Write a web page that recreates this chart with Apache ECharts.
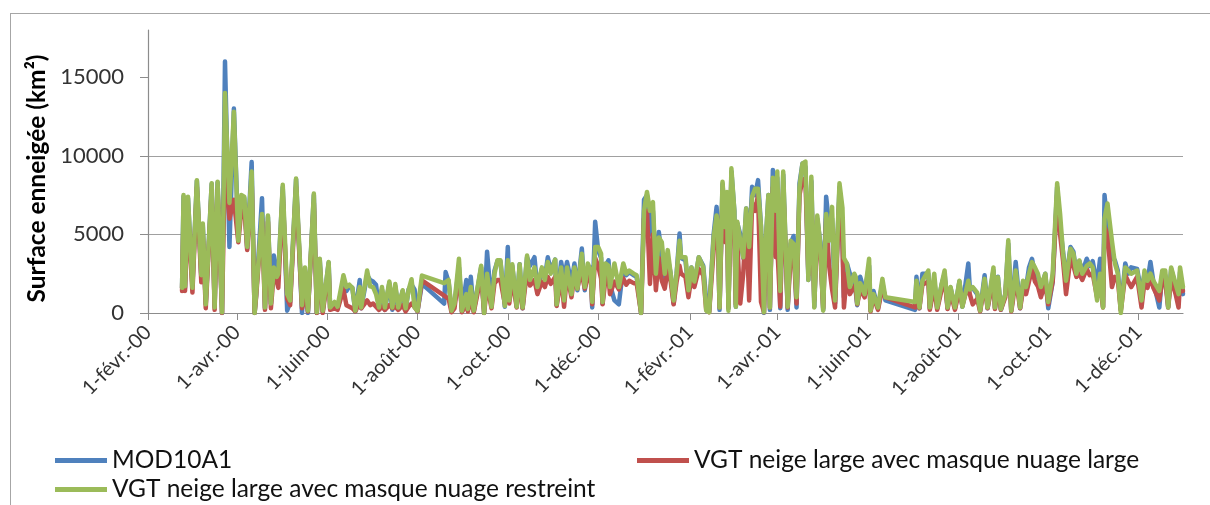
<!DOCTYPE html>
<html>
<head>
<meta charset="utf-8">
<title>Surface enneigée</title>
<script src="https://cdn.jsdelivr.net/npm/echarts@6/dist/echarts.min.js"></script>
<style>
  html, body { margin: 0; padding: 0; background: #fff; }
  #wrap { position: relative; width: 1210px; height: 505px; overflow: hidden; }
  #frame { position: absolute; left: 10px; top: 13px; width: 1300px; height: 600px; border: 1px solid #a6a6a6; }
  #chart { position: absolute; left: 0; top: 0; width: 1210px; height: 505px; }
</style>
</head>
<body>
<div id="wrap">
  <div id="frame"></div>
  <div id="chart"></div>
</div>
<script>
const dates = [
  '2000-02-24','2000-02-25','2000-02-26','2000-02-28','2000-03-02','2000-03-05','2000-03-08','2000-03-09','2000-03-11','2000-03-15',
  '2000-03-17','2000-03-19','2000-03-22','2000-03-24','2000-03-27','2000-03-30','2000-04-02','2000-04-04','2000-04-06','2000-04-08',
  '2000-04-11','2000-04-13','2000-04-14','2000-04-18','2000-04-20','2000-04-22','2000-04-24','2000-04-26','2000-04-28','2000-04-29',
  '2000-05-02','2000-05-05','2000-05-07','2000-05-11','2000-05-15','2000-05-17','2000-05-19','2000-05-23','2000-05-25','2000-05-27',
  '2000-05-29','2000-06-02','2000-06-03','2000-06-06','2000-06-08','2000-06-12','2000-06-14','2000-06-16','2000-06-18','2000-06-20',
  '2000-06-23','2000-06-24','2000-06-28','2000-06-30','2000-07-02','2000-07-04','2000-07-06','2000-07-08','2000-07-10','2000-07-13',
  '2000-07-15','2000-07-17','2000-07-19','2000-07-22','2000-07-24','2000-07-26','2000-07-28','2000-07-30','2000-08-01','2000-08-04',
  '2000-08-19','2000-08-20','2000-08-22','2000-08-24','2000-08-26','2000-08-29','2000-08-31','2000-09-03','2000-09-04','2000-09-06',
  '2000-09-08','2000-09-13','2000-09-15','2000-09-17','2000-09-20','2000-09-22','2000-09-24','2000-09-26','2000-09-29','2000-10-01',
  '2000-10-02','2000-10-04','2000-10-07','2000-10-09','2000-10-11','2000-10-14','2000-10-16','2000-10-19','2000-10-21','2000-10-24',
  '2000-10-26','2000-10-28','2000-10-30','2000-11-02','2000-11-03','2000-11-06','2000-11-08','2000-11-10','2000-11-13','2000-11-15',
  '2000-11-17','2000-11-20','2000-11-21','2000-11-22','2000-11-24','2000-11-26','2000-11-27','2000-11-29','2000-12-01','2000-12-03',
  '2000-12-04','2000-12-06','2000-12-08','2000-12-09','2000-12-12','2000-12-15','2000-12-18','2000-12-20','2000-12-22','2000-12-25',
  '2000-12-27','2000-12-30','2001-01-01','2001-01-03','2001-01-05','2001-01-07','2001-01-09','2001-01-11','2001-01-13','2001-01-15',
  '2001-01-17','2001-01-19','2001-01-21','2001-01-23','2001-01-25','2001-01-26','2001-01-29','2001-01-31','2001-02-02','2001-02-04',
  '2001-02-07','2001-02-10','2001-02-12','2001-02-14','2001-02-17','2001-02-19','2001-02-20','2001-02-21','2001-02-23','2001-02-25',
  '2001-02-26','2001-02-27','2001-03-01','2001-03-03','2001-03-04','2001-03-05','2001-03-07','2001-03-09','2001-03-11','2001-03-13',
  '2001-03-15','2001-03-17','2001-03-19','2001-03-21','2001-03-23','2001-03-24','2001-03-26','2001-03-27','2001-03-29','2001-03-31',
  '2001-04-01','2001-04-03','2001-04-05','2001-04-08','2001-04-10','2001-04-12','2001-04-14','2001-04-16','2001-04-18','2001-04-20',
  '2001-04-22','2001-04-24','2001-04-26','2001-04-28','2001-04-30','2001-05-02','2001-05-04','2001-05-06','2001-05-08','2001-05-10',
  '2001-05-13','2001-05-15','2001-05-16','2001-05-18','2001-05-20','2001-05-23','2001-05-24','2001-05-25','2001-05-27','2001-05-30',
  '2001-06-02','2001-06-03','2001-06-05','2001-06-08','2001-06-11','2001-06-13','2001-07-03','2001-07-04','2001-07-06','2001-07-08',
  '2001-07-12','2001-07-13','2001-07-16','2001-07-18','2001-07-21','2001-07-23','2001-07-25','2001-07-27','2001-07-30','2001-08-02',
  '2001-08-04','2001-08-08','2001-08-09','2001-08-11','2001-08-14','2001-08-16','2001-08-19','2001-08-21','2001-08-25','2001-08-26',
  '2001-08-28','2001-08-30','2001-09-02','2001-09-04','2001-09-06','2001-09-07','2001-09-09','2001-09-12','2001-09-14','2001-09-16',
  '2001-09-18','2001-09-20','2001-09-22','2001-09-24','2001-09-26','2001-09-29','2001-10-01','2001-10-04','2001-10-07','2001-10-09',
  '2001-10-11','2001-10-13','2001-10-16','2001-10-18','2001-10-20','2001-10-22','2001-10-24','2001-10-27','2001-10-29','2001-10-31',
  '2001-11-03','2001-11-05','2001-11-07','2001-11-08','2001-11-10','2001-11-13','2001-11-15','2001-11-17','2001-11-19','2001-11-22',
  '2001-11-24','2001-11-26','2001-11-30','2001-12-03','2001-12-05','2001-12-07','2001-12-09','2001-12-11','2001-12-15','2001-12-17',
  '2001-12-19','2001-12-21','2001-12-23','2001-12-26','2001-12-28','2001-12-29','2001-12-31'
]

// surface enneigée (km²)
const mod10a1 = [
  1600,7400,1600,7300,1700,8400,2300,5600,600,8200,
  400,8300,0,16000,4200,13000,4800,7400,7300,4100,
  9600,0,1100,7300,300,6100,600,3650,2300,2500,
  8000,150,700,8500,0,2700,0,7500,0,3400,
  100,3200,300,500,300,2000,1400,1700,1600,100,
  2100,300,2400,2100,2000,1800,300,1500,200,1900,
  200,1700,300,1400,200,1500,1800,1500,100,1850,
  600,2600,2000,100,600,2900,100,2100,200,2300,
  100,2900,0,3900,500,2700,3300,3300,400,4200,
  1000,3000,400,3100,300,3550,3000,3550,1500,2800,
  2200,3550,2700,3400,500,3250,2200,3250,1900,3150,
  1450,4100,2600,1450,2900,2900,350,5800,4000,3500,
  600,3000,3350,1800,800,550,2900,2400,2600,2400,
  2300,0,7200,7500,5000,6500,2500,5150,3500,2000,
  3500,2500,600,2500,5050,3500,3350,1400,2900,1800,
  3550,3000,800,100,5000,6750,5300,200,8200,5500,
  7600,300,9000,6500,400,5700,5000,3500,6650,4200,
  8030,7500,8450,5500,0,4200,7500,200,9100,6000,
  8600,300,8800,200,4400,4900,350,8250,9500,9300,
  2100,8400,400,6000,4500,200,7400,5600,6000,600,
  8000,5000,1000,3150,2500,2200,2100,500,2300,1300,
  3000,150,1400,300,1900,800,200,2300,300,2500,
  2500,300,2100,300,1800,2500,300,1600,300,2000,
  400,3150,1650,1600,1200,150,2400,300,2700,300,
  2300,200,1200,4400,150,1000,3250,300,2000,1600,
  2900,3450,2500,2300,1500,2500,300,2000,8000,5500,
  3900,2100,4200,3900,2500,3300,2600,3450,3000,3300,
  1800,3450,400,7500,5500,3500,3350,2700,200,3150,
  2500,2900,2800,1300,2500,2000,3250,2000,350,2500,
  2400,400,2800,1700,800,2600,1200
]

const vgtLarge = [
  1400,6200,1400,6500,1300,8000,1950,5000,300,7800,
  200,7900,0,10000,6000,7200,4500,6500,6800,4000,
  8500,0,1000,6000,200,5800,300,2600,2000,1600,
  7500,900,500,8000,300,1200,100,7000,0,3000,
  0,2800,200,300,200,1500,500,400,300,100,
  700,300,800,500,600,400,200,400,200,500,
  300,400,200,500,100,400,600,400,100,2070,
  1100,1200,900,50,300,2600,50,600,100,900,
  50,2400,0,1800,300,1900,2100,2100,600,2500,
  600,2200,350,2300,300,2700,1750,2100,1200,2000,
  1650,2300,1850,2300,450,2300,400,2500,1000,2400,
  1550,3000,2000,1550,2300,2200,550,3500,3000,2200,
  550,2200,2300,1200,2000,1500,2200,1800,2050,1900,
  1900,0,6000,6500,1850,5000,1450,3500,2050,1550,
  2800,2000,550,2000,3000,2500,2300,1000,2300,1650,
  2800,2400,200,50,4000,5500,4500,350,7500,4500,
  7000,350,8500,5000,550,4500,600,2500,6000,800,
  7000,6500,7500,700,50,3500,6800,350,8000,3550,
  4200,400,8000,350,3500,4000,600,7500,8500,8500,
  2400,7500,800,5500,3800,300,6000,3000,1500,350,
  7500,4500,350,2500,1200,1700,1500,550,1500,1000,
  2500,100,1000,200,1600,1000,350,1500,300,1800,
  2000,200,1700,200,1500,2200,250,1300,200,1500,
  450,1900,1200,550,900,100,1800,300,2200,250,
  1700,200,1000,3800,100,700,2200,300,1500,1200,
  2000,2800,2000,1700,1000,1900,550,2000,7500,5000,
  3300,1200,3500,3000,2300,2500,2100,2800,2400,2500,
  1000,2000,350,5500,5000,1650,2300,2100,150,2400,
  2000,1650,2300,350,2000,1600,2300,1600,800,2100,
  2000,350,2200,1200,350,2000,1400
]

const vgtRestreint = [
  1600,7500,1700,7400,1600,8450,2400,5700,550,8250,
  350,8350,50,14000,7000,12800,4600,7500,7400,4200,
  9000,0,1200,6300,350,6200,600,2900,2300,2500,
  8150,1200,800,8550,500,2900,150,7600,50,3450,
  150,3240,350,700,400,2400,1650,1800,1600,150,
  1650,350,2700,1700,1650,1200,350,1650,350,2000,
  350,1850,350,1450,300,1450,2150,350,150,2380,
  1900,2000,2100,150,600,3450,150,1200,250,1650,
  150,3000,0,2500,400,2500,3350,3350,450,3350,
  800,3100,400,3100,350,3650,2100,2900,1650,2900,
  2100,3250,2500,3400,550,2900,800,2900,1200,2900,
  1550,3770,2500,1650,3150,2700,700,4200,4200,3770,
  700,3150,3000,1650,3150,1650,3150,2500,2700,2500,
  2400,0,6500,7700,6500,7050,2500,4800,4500,2500,
  4000,2500,800,2500,4600,3550,3550,1450,2900,2000,
  3550,2900,150,50,4800,6200,5300,350,8350,5450,
  7700,150,9200,6500,400,5800,4600,3550,6650,4200,
  7400,7900,7900,5500,50,4200,7500,350,8600,6500,
  9000,1400,9000,400,4600,4400,1000,8000,9500,9630,
  2100,8670,350,6200,4400,150,6300,4600,6750,800,
  8250,6700,3500,3150,1650,2500,2300,600,1900,1200,
  3450,150,1200,350,2170,1000,700,2050,350,2050,
  2700,350,2500,350,1850,2700,350,1650,350,2050,
  400,2050,1500,1650,1300,150,2170,350,2900,350,
  2280,250,1200,4620,150,1000,2700,350,2050,1650,
  2500,3240,2900,2500,1650,2500,700,2500,8250,6300,
  3770,2050,4090,3770,2500,3340,2500,3000,3150,2900,
  800,2500,350,6000,6970,4600,3150,2500,0,2900,
  2700,2500,2700,800,2700,2050,2500,2050,1400,2700,
  2700,350,2900,1850,1200,2900,1650
]

// axis ticks
const tickDates = ['2000-02-01','2000-04-01','2000-06-01','2000-08-01','2000-10-01','2000-12-01',
                   '2001-02-01','2001-04-01','2001-06-01','2001-08-01','2001-10-01','2001-12-01']
const tickLabels = ['1-févr.-00','1-avr.-00','1-juin-00','1-août-00','1-oct.-00','1-déc.-00',
                    '1-févr.-01','1-avr.-01','1-juin-01','1-août-01','1-oct.-01','1-déc.-01']
const yTicks = [0, 5000, 10000, 15000]

const seriesNames = ['MOD10A1', 'VGT neige large avec masque nuage large', 'VGT neige large avec masque nuage restreint']
const colors = ['#4F81BD', '#C0504D', '#9BBB59']

function toTime(s) {
  const p = s.split('-')
  return Date.UTC(+p[0], +p[1] - 1, +p[2])
}
const tickTimes = tickDates.map(toTime)
function pairs(vals) {
  return dates.map((d, i) => [toTime(d), vals[i]])
}

const font = 'Lato, "Open Sans", sans-serif'
const chart = echarts.init(document.getElementById('chart'))

function legendAt(name, left, top) {
  return {
    data: [name],
    left: left,
    top: top,
    icon: 'rect',
    itemWidth: 52,
    itemHeight: 5,
    textStyle: { fontFamily: font, fontSize: 24.5, color: '#111' }
  }
}

const option = {
  animation: false,
  backgroundColor: 'transparent',
  color: colors,
  grid: { left: 148, right: 27, top: 30, bottom: 192, containLabel: false },
  legend: [
    legendAt(seriesNames[0], 50, 443),
    legendAt(seriesNames[1], 632, 443),
    legendAt(seriesNames[2], 50, 472)
  ],
  // dates as numbers on a value axis, ticks on the first day of every other month
  xAxis: {
    type: 'value',
    min: toTime('2000-02-01'),
    max: toTime('2001-12-31'),
    axisLine: { lineStyle: { color: '#8c8c8c', width: 1.2 } },
    axisTick: { show: true, length: 7, customValues: tickTimes, lineStyle: { color: '#8c8c8c' } },
    axisLabel: {
      customValues: tickTimes,
      rotate: 45,
      margin: 16,
      fontFamily: font,
      fontSize: 20,
      color: '#333',
      formatter: function (v) {
        const i = tickTimes.indexOf(v)
        return i >= 0 ? tickLabels[i] : ''
      }
    },
    splitLine: { show: false }
  },
  yAxis: {
    type: 'value',
    min: 0,
    max: 18000,
    interval: 5000,
    name: 'Surface enneigée (km²)',
    nameLocation: 'middle',
    nameGap: 98,
    nameTextStyle: { fontFamily: font, fontSize: 24.5, fontWeight: 'bold', color: '#000', padding: [0, 14, 0, 0] },
    axisLine: { show: true, lineStyle: { color: '#8c8c8c', width: 1.2 } },
    axisTick: { show: true, length: 8, customValues: yTicks, lineStyle: { color: '#8c8c8c' } },
    axisLabel: {
      customValues: yTicks,
      margin: 24,
      fontFamily: font,
      fontSize: 22,
      color: '#333',
      formatter: function (v) { return String(v) }
    },
    splitLine: { show: true, showMaxLine: false, lineStyle: { color: '#a0a0a0', width: 1.2 } }
  },
  series: seriesNames.map((name, k) => ({
    name: name,
    type: 'line',
    symbol: 'none',
    showSymbol: false,
    data: pairs([mod10a1, vgtLarge, vgtRestreint][k]),
    lineStyle: { width: 4.5, color: colors[k], join: 'round', cap: 'round' },
    itemStyle: { color: colors[k] }
  }))
}

chart.setOption(option)
</script>
</body>
</html>
